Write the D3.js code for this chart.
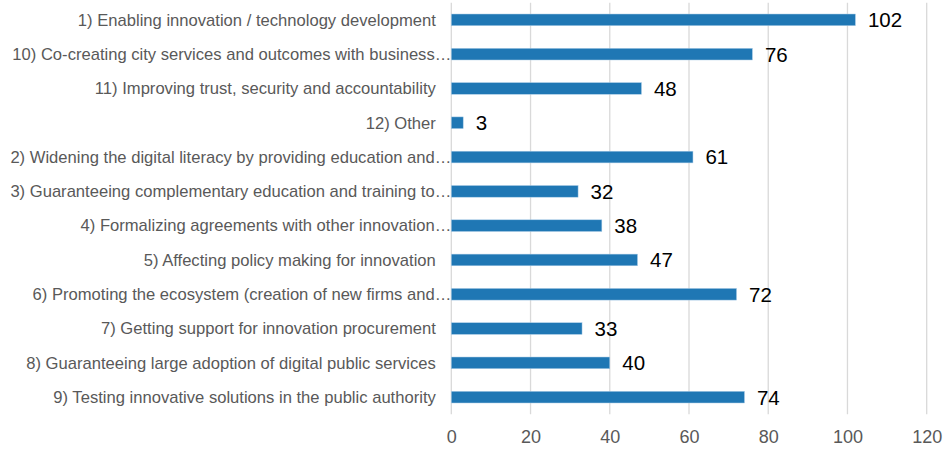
<!DOCTYPE html>
<html><head><meta charset="utf-8">
<script src="https://cdn.jsdelivr.net/npm/d3@7"></script>
<style>body{margin:0;background:#fff}svg{display:block}text{font-family:"Liberation Sans",Arial,sans-serif}</style>
</head><body><svg id="c" width="946" height="452"></svg>
<script>
const categories = [
  "1) Enabling innovation / technology development",
  "10) Co-creating city services and outcomes with business…",
  "11) Improving trust, security and accountability",
  "12) Other",
  "2) Widening the digital literacy by providing education and…",
  "3) Guaranteeing complementary education and training to…",
  "4) Formalizing agreements with other innovation…",
  "5) Affecting policy making for innovation",
  "6) Promoting the ecosystem (creation of new firms and…",
  "7) Getting support for innovation procurement",
  "8) Guaranteeing large adoption of digital public services",
  "9) Testing innovative solutions in the public authority"
];
const values = [102, 76, 48, 3, 61, 32, 38, 47, 72, 33, 40, 74];
const ticks = [0, 20, 40, 60, 80, 100, 120];

(function () {
const svg = d3.select("#c");
const mLeft = 451.3, mRight = 926.7, mTop = 2.7, mBottom = 414.3;
const x = d3.scaleLinear().domain([0, 120]).range([mLeft, mRight]);
const y = d3.scaleBand().domain(categories).range([mTop, mBottom]).paddingInner(0.66).paddingOuter(0.33);

svg.append("g").selectAll("line").data(ticks).join("line")
  .attr("x1", d => x(d)).attr("x2", d => x(d))
  .attr("y1", mTop).attr("y2", mBottom)
  .attr("stroke", "#d9d9d9").attr("stroke-width", 1.3);

svg.append("g").selectAll("rect").data(values).join("rect")
  .attr("x", x(0)).attr("y", (d, i) => y(categories[i]))
  .attr("width", d => x(d) - x(0)).attr("height", y.bandwidth())
  .attr("fill", "#1f77b4").attr("stroke", "#a9cbe6").attr("stroke-width", 0.5);

svg.append("g").selectAll("text").data(values).join("text")
  .attr("x", d => x(d) + 12.5).attr("y", (d, i) => y(categories[i]) + y.bandwidth() / 2)
  .attr("dy", "0.36em").attr("font-size", 20.5).attr("fill", "#000")
  .text(d => d);

svg.append("g").selectAll("text").data(categories).join("text")
  .attr("x", d => d.endsWith("…") ? mLeft : mLeft - 15.5)
  .attr("y", d => y(d) + y.bandwidth() / 2)
  .attr("dy", "0.35em").attr("text-anchor", "end")
  .attr("font-size", 16.6).attr("fill", "#595959")
  .text(d => d);

const ax = svg.append("g").attr("transform", `translate(0,${mBottom})`)
  .call(d3.axisBottom(x).tickValues(ticks).tickSize(0).tickPadding(16).tickFormat(d3.format("d")));
ax.select(".domain").remove();
ax.selectAll("text").attr("font-size", 18).attr("fill", "#595959")
  .attr("font-family", "\"Liberation Sans\",Arial,sans-serif");
})();
</script></body></html>
